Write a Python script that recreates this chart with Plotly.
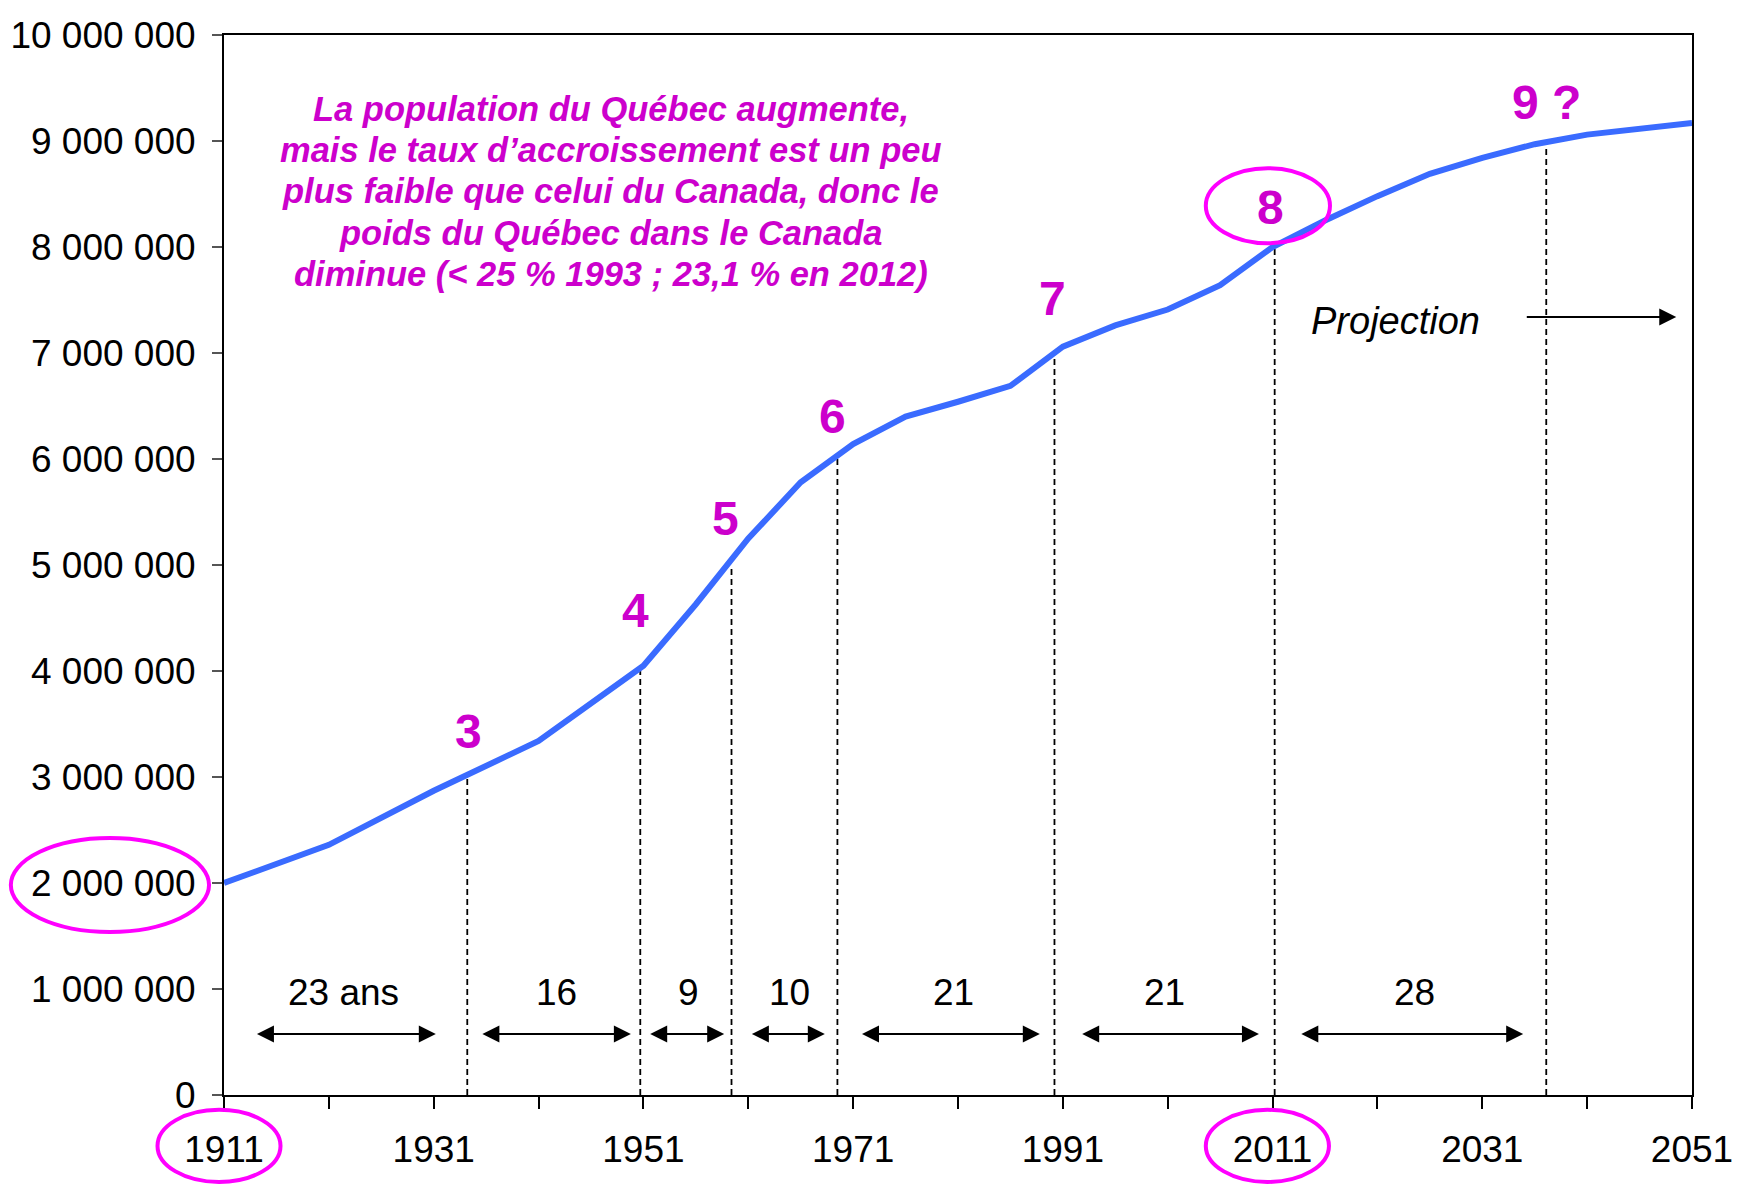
import plotly.graph_objects as go

# ---- data ----
years = [1911, 1921, 1931, 1941, 1951, 1956, 1961, 1966, 1971, 1976, 1981, 1986,
         1991, 1996, 2001, 2006, 2011, 2016, 2021, 2026, 2031, 2036, 2041, 2046, 2051]
population = [2.00e6, 2.36e6, 2.87e6, 3.34e6, 4.05e6, 4.63e6, 5.25e6, 5.78e6, 6.14e6,
              6.40e6, 6.54e6, 6.69e6, 7.06e6, 7.26e6, 7.41e6, 7.64e6, 8.00e6, 8.25e6,
              8.48e6, 8.69e6, 8.84e6, 8.97e6, 9.06e6, 9.12e6, 9.17e6]

milestone_years = [1934.2, 1950.7, 1959.4, 1969.5, 1990.2, 2011.2, 2037.1]
milestone_values = [3e6, 4e6, 5e6, 6e6, 7e6, 8e6, 9e6]
milestone_labels = ["3", "4", "5", "6", "7", "8", "9 ?"]
label_years = [1934.3, 1950.2, 1958.8, 1969.0, 1990.0, 2010.8, 2037.1]
label_values = [3.43e6, 4.57e6, 5.44e6, 6.40e6, 7.51e6, 8.37e6, 9.36e6]

interval_labels = ["23 ans", "16", "9", "10", "21", "21", "28"]
interval_starts = [1914.0, 1935.5, 1951.5, 1961.2, 1971.7, 1992.7, 2013.6]
interval_ends = [1931.2, 1949.8, 1958.7, 1968.3, 1988.8, 2009.7, 2034.9]
interval_label_years = [1922.4, 1942.7, 1955.3, 1964.9, 1980.6, 2000.7, 2024.5]
interval_arrow_value = 0.575e6
interval_label_value = 0.965e6

y_ticks = [i * 1_000_000 for i in range(11)]
y_ticktext = [f"{v:,}".replace(",", " ") for v in y_ticks]
x_ticks = list(range(1911, 2052, 10))
x_ticktext = [str(v) if (v - 1911) % 20 == 0 else "" for v in x_ticks]

note_lines = ["La population du Québec augmente,",
              "mais le taux d’accroissement est un peu",
              "plus faible que celui du Canada, donc le",
              "poids du Québec dans le Canada",
              "diminue (&lt; 25 % 1993 ; 23,1 % en 2012)"]
note_line_values = [9.306e6, 8.912e6, 8.528e6, 8.135e6, 7.741e6]
note_center_year = 1947.9

FONT = "Liberation Sans, Arial, sans-serif"
MAGENTA_TEXT = "#CC00CC"
MAGENTA_RING = "#FF00FF"

fig = go.Figure()

# dashed milestone lines
dx, dy = [], []
for yr, v in zip(milestone_years, milestone_values):
    dx += [yr, yr, None]
    dy += [0, v, None]
fig.add_trace(go.Scatter(x=dx, y=dy, mode="lines",
                         line=dict(color="black", width=1.8, dash="6px,4px"),
                         hoverinfo="skip", showlegend=False))

# population line
fig.add_trace(go.Scatter(x=years, y=population, mode="lines",
                         line=dict(color="#3A6BFF", width=6),
                         showlegend=False))

annotations = []
for yr, v, t in zip(label_years, label_values, milestone_labels):
    annotations.append(dict(x=yr, y=v, text=t, showarrow=False, xref="x", yref="y",
                            font=dict(family=FONT, size=48, color=MAGENTA_TEXT, weight="bold")))

for s, e, lx, t in zip(interval_starts, interval_ends, interval_label_years, interval_labels):
    annotations.append(dict(x=e, y=interval_arrow_value, ax=s, ay=interval_arrow_value,
                            xref="x", yref="y", axref="x", ayref="y", text="",
                            showarrow=True, arrowside="end+start", arrowhead=2,
                            arrowsize=1.7, arrowwidth=2, arrowcolor="black",
                            standoff=0, startstandoff=0))
    annotations.append(dict(x=lx, y=interval_label_value, text=t, showarrow=False,
                            xref="x", yref="y",
                            font=dict(family=FONT, size=37, color="black")))

# projection
annotations.append(dict(x=2022.7, y=7.30e6, text="Projection", showarrow=False,
                        xref="x", yref="y",
                        font=dict(family=FONT, size=38, color="black", style="italic")))
annotations.append(dict(x=2049.5, y=7.34e6, ax=2035.1, ay=7.34e6,
                        xref="x", yref="y", axref="x", ayref="y", text="",
                        showarrow=True, arrowside="end", arrowhead=2,
                        arrowsize=1.7, arrowwidth=2, arrowcolor="black", standoff=0))

# note (one annotation per line)
for line, v in zip(note_lines, note_line_values):
    annotations.append(dict(x=note_center_year, y=v, text=line, showarrow=False,
                            xref="x", yref="y", align="center",
                            font=dict(family=FONT, size=34.5, color=MAGENTA_TEXT,
                                      weight="bold", style="italic")))

ring = dict(type="circle", xref="x domain", yref="y domain",
            line=dict(color=MAGENTA_RING, width=4), fillcolor="rgba(0,0,0,0)")
shapes = [
    dict(ring, x0=-0.1452, x1=-0.0102, y0=0.1538, y1=0.2424),   # 2 000 000
    dict(ring, x0=-0.0453, x1=0.0385, y0=-0.0820, y1=-0.0140),  # 1911
    dict(ring, x0=0.6688, x1=0.7527, y0=-0.0820, y1=-0.0140),   # 2011
    dict(ring, x0=0.6688, x1=0.7534, y0=0.8035, y1=0.8744),     # 8
]

fig.update_layout(
    width=1743, height=1185,
    margin=dict(l=216, r=59, t=27, b=98),
    paper_bgcolor="white", plot_bgcolor="white",
    font=dict(family=FONT, size=37, color="black"),
    annotations=annotations, shapes=shapes,
    showlegend=False,
)
fig.update_xaxes(range=[1911, 2051], tickmode="array", tickvals=x_ticks, ticktext=x_ticktext,
                 showline=True, linecolor="black", linewidth=2, mirror=True,
                 ticks="outside", ticklen=12, tickwidth=1.5, tickcolor="black",
                 showgrid=False, zeroline=False, ticklabelstandoff=9, automargin=False,
                 ticklabeloverflow="allow",
                 tickfont=dict(family=FONT, size=37, color="black"))
fig.update_yaxes(range=[0, 10e6], tickmode="array", tickvals=y_ticks, ticktext=y_ticktext,
                 showline=True, linecolor="black", linewidth=2, mirror=True,
                 ticks="outside", ticklen=10, tickwidth=1.5, tickcolor="#555555",
                 showgrid=False, zeroline=False, ticklabelstandoff=9, automargin=False,
                 ticklabeloverflow="allow",
                 tickfont=dict(family=FONT, size=37, color="black"))

fig.write_html("out.html")
